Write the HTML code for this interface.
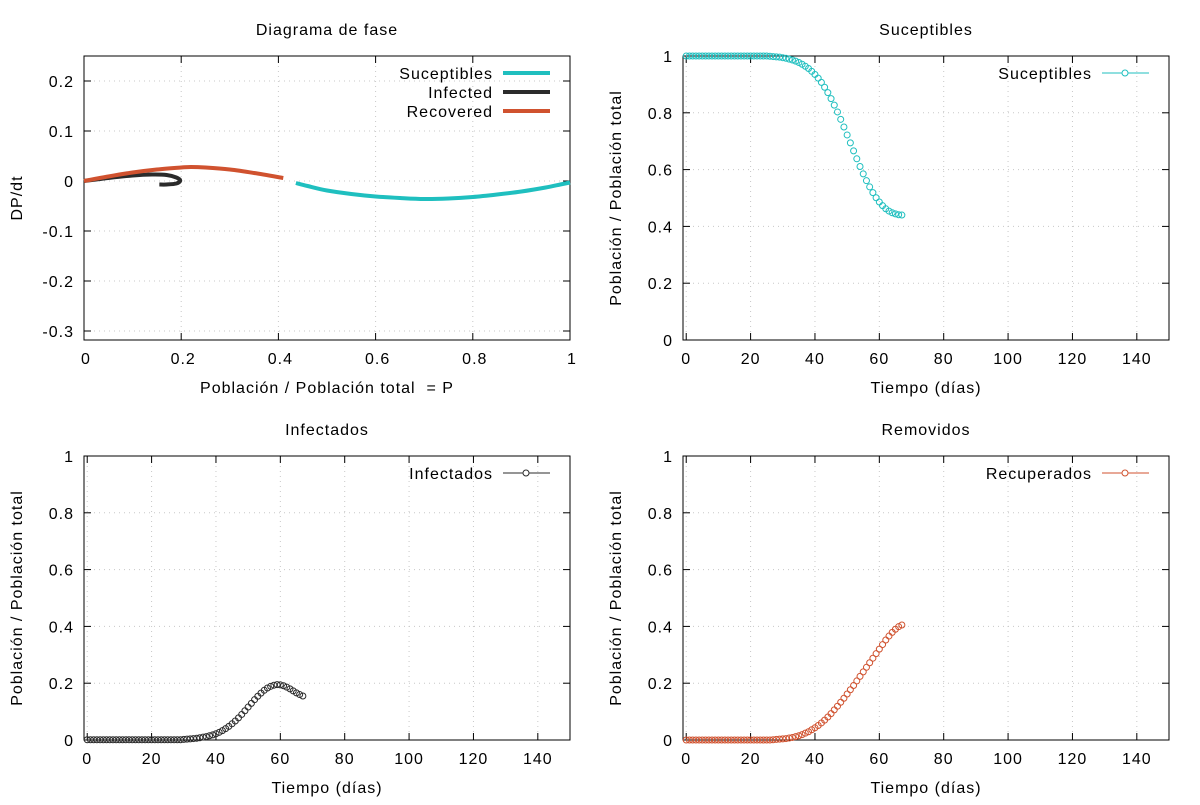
<!DOCTYPE html>
<html><head><meta charset="utf-8"><style>
body{margin:0;background:#fff}
svg{font-family:"Liberation Sans",sans-serif;font-size:16px;letter-spacing:1px}
</style></head><body>
<svg id="c" width="1200" height="800" viewBox="0 0 1200 800" xmlns="http://www.w3.org/2000/svg"></svg>
<script>
const days=[];for(let d=0;d<=67;d++)days.push(d);
const susceptible=[1,1,1,1,1,1,1,1,1,1,1,1,1,1,1,1,1,1,1,1,1,1,1,1,1,1,0.999,0.998,0.997,0.996,0.994,0.992,0.989,0.986,0.982,0.977,0.971,0.964,0.956,0.946,0.935,0.922,0.907,0.890,0.871,0.850,0.827,0.803,0.777,0.750,0.722,0.694,0.666,0.638,0.611,0.585,0.561,0.539,0.519,0.501,0.486,0.473,0.462,0.454,0.448,0.444,0.441,0.440];
const infected=[0.001,0.001,0.001,0.001,0.001,0.001,0.001,0.001,0.001,0.001,0.001,0.001,0.001,0.001,0.001,0.001,0.001,0.001,0.001,0.001,0.001,0.001,0.001,0.001,0.001,0.001,0.001,0.001,0.001,0.001,0.002,0.003,0.004,0.005,0.006,0.008,0.010,0.012,0.015,0.018,0.022,0.027,0.033,0.040,0.048,0.057,0.067,0.078,0.090,0.103,0.116,0.129,0.142,0.154,0.165,0.175,0.183,0.189,0.193,0.195,0.194,0.191,0.186,0.180,0.173,0.166,0.160,0.155];
const recovered=[0,0,0,0,0,0,0,0,0,0,0,0,0,0,0,0,0,0,0,0,0,0,0,0,0,0,0,0.001,0.002,0.003,0.004,0.005,0.007,0.009,0.012,0.015,0.019,0.024,0.029,0.036,0.043,0.051,0.060,0.070,0.081,0.093,0.106,0.119,0.133,0.147,0.162,0.177,0.192,0.208,0.224,0.240,0.256,0.272,0.288,0.304,0.320,0.336,0.352,0.366,0.379,0.390,0.399,0.405];
const phaseSP=[0.436,0.46,0.5,0.55,0.6,0.65,0.7,0.75,0.8,0.85,0.9,0.95,0.98,1.0];
const phaseSD=[-0.004,-0.010,-0.019,-0.026,-0.031,-0.034,-0.036,-0.035,-0.032,-0.027,-0.021,-0.013,-0.007,-0.003];
const phaseIP=[0,0.05,0.1,0.14,0.17,0.19,0.198,0.19,0.17,0.155];
const phaseID=[0,0.006,0.011,0.013,0.012,0.007,0.001,-0.005,-0.007,-0.007];
const phaseRP=[0,0.05,0.1,0.15,0.2,0.22,0.25,0.3,0.35,0.41];
const phaseRD=[0,0.009,0.017,0.023,0.027,0.028,0.027,0.023,0.016,0.006];
const phaseXTicks=["0","0.2","0.4","0.6","0.8","1"];
const phaseYTicks=["0.2","0.1","0","-0.1","-0.2","-0.3"];
const timeXTicks=["0","20","40","60","80","100","120","140"];
const timeYTicks=["0","0.2","0.4","0.6","0.8","1"];
const CS="#1fbfbf",CI="#2b2b2b",CR="#d0522f";
const svg=document.getElementById('c');
const NS="http://www.w3.org/2000/svg";
function el(t,a,p){const e=document.createElementNS(NS,t);for(const k in a)e.setAttribute(k,a[k]);(p||svg).appendChild(e);return e;}
function txt(s,x,y,anchor,name,rot){const e=el('text',{x:x,y:y,'text-anchor':anchor||'middle',fill:'#000'});if(rot)e.setAttribute('transform','rotate(-90 '+x+' '+y+')');e.textContent=s;


return e;}
function panel(o){
 const g=el('g',{});
 
 
 const X=v=>o.x0+(v-o.xmin)/(o.xmax-o.xmin)*(o.x1-o.x0);
 const Y=v=>o.y1-(v-o.ymin)/(o.ymax-o.ymin)*(o.y1-o.y0);
 o.xt.forEach(s=>{const v=parseFloat(s),px=X(v);
  const gl=el('line',{x1:px,x2:px,y1:o.y0,y2:o.y1,stroke:'#c8c8c8','stroke-dasharray':'1,4'},g);
  
  el('line',{x1:px,x2:px,y1:o.y1,y2:o.y1-7,stroke:'#000'},g);el('line',{x1:px,x2:px,y1:o.y0,y2:o.y0+7,stroke:'#000'},g);
  txt(s,px+o.xo,o.y1+24,'middle','x-tick-label');});
 o.yt.forEach(s=>{const v=parseFloat(s),py=Y(v);
  const gl=el('line',{x1:o.x0,x2:o.x1,y1:py,y2:py,stroke:'#c8c8c8','stroke-dasharray':'1,4'},g);
  
  el('line',{x1:o.x0,x2:o.x0+7,y1:py,y2:py,stroke:'#000'},g);el('line',{x1:o.x1,x2:o.x1-7,y1:py,y2:py,stroke:'#000'},g);
  txt(s,o.x0-10,py+6,'end','y-tick-label');});
 const b=el('rect',{x:o.x0,y:o.y0,width:o.x1-o.x0,height:o.y1-o.y0,fill:'none',stroke:'#000'},g);
 
 txt(o.title,(o.x0+o.x1)/2,o.y0-21,'middle','panel-title');
 txt(o.xl,(o.x0+o.x1)/2,o.y1+53,'middle','x-axis-title');
 txt(o.yl,o.x0-62,(o.y0+o.y1)/2,'middle','y-axis-title',true);
 return {X,Y,g};
}
const p1=panel({name:'phase-diagram-panel',x0:84,x1:570,y0:56,y1:340,xmin:0,xmax:1,ymin:-0.318,ymax:0.25,xo:2,xt:phaseXTicks,yt:phaseYTicks,title:'Diagrama de fase',xl:'Población / Población total\u00a0\u00a0= P',yl:'DP/dt'});
function smooth(P,D,p){let pts=P.map((v,i)=>[p.X(v),p.Y(D[i])]);let d='M'+pts[0][0]+','+pts[0][1];
 for(let i=0;i<pts.length-1;i++){const p0=pts[Math.max(0,i-1)],a=pts[i],b=pts[i+1],p3=pts[Math.min(pts.length-1,i+2)];
 d+=' C'+(a[0]+(b[0]-p0[0])/6)+','+(a[1]+(b[1]-p0[1])/6)+' '+(b[0]-(p3[0]-a[0])/6)+','+(b[1]-(p3[1]-a[1])/6)+' '+b[0]+','+b[1];}return d;}
[[phaseSP,phaseSD,CS,'phase-susceptible-line'],[phaseIP,phaseID,CI,'phase-infected-line'],[phaseRP,phaseRD,CR,'phase-recovered-line']].forEach(s=>{
 const e=el('path',{d:smooth(s[0],s[1],p1),fill:'none',stroke:s[2],'stroke-width':4},p1.g);
 
 });
[['Suceptibles',CS,73],['Infected',CI,92],['Recovered',CR,111]].forEach(l=>{
 txt(l[0],493,l[2]+6,'end','legend-label');
 const e=el('line',{x1:503,x2:550,y1:l[2],y2:l[2],stroke:l[1],'stroke-width':4});
 
 });
function tpanel(name,x0,y0,title,vals,col,leg){
 const p=panel({name:name,x0:x0,x1:x0+486,y0:y0,y1:y0+284,xmin:-1,xmax:150,ymin:0,ymax:1,xo:0,xt:timeXTicks,yt:timeYTicks,title:title,xl:'Tiempo (días)',yl:'Población / Población total'});
 vals.forEach((v,i)=>{const c=el('circle',{cx:p.X(days[i]),cy:p.Y(v),r:3,fill:'none',stroke:col,'stroke-width':1},p.g);
  
  });
 const ly=y0+17;
 txt(leg,x0+409,ly+6,'end','legend-label');
 const ln=el('line',{x1:x0+419,x2:x0+466,y1:ly,y2:ly,stroke:col,'stroke-width':1});
 
 
 const lc=el('circle',{cx:x0+442,cy:ly,r:3,fill:'#fff',stroke:col});
 
 
}
tpanel('susceptible-panel',683,56,'Suceptibles',susceptible,CS,'Suceptibles');
tpanel('infected-panel',84,456,'Infectados',infected,CI,'Infectados');
tpanel('removed-panel',683,456,'Removidos',recovered,CR,'Recuperados');
</script>
</body></html>
